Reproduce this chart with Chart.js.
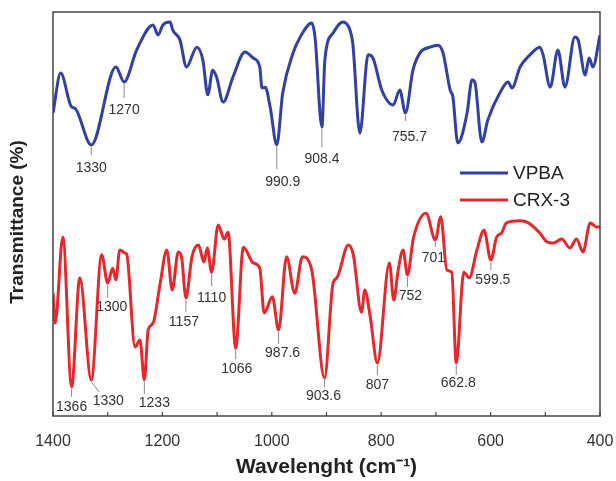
<!DOCTYPE html>
<html lang="en">
<head>
    <meta charset="UTF-8">
    <title>FTIR spectra VPBA / CRX-3</title>
    <script src="https://cdn.jsdelivr.net/npm/chart.js"></script>
    <style>
        html, body { margin: 0; padding: 0; background: #fff; }
        #wrap { width: 616px; height: 481px; }
    </style>
</head>
<body>
    <div id="wrap"><canvas id="ftirChart" width="616" height="481"></canvas></div>
    <script>
        // VPBA spectrum (wavenumber, transmittance a.u.)
        const vpbaWave = [1400, 1386, 1366, 1360, 1330, 1285, 1270, 1247, 1217, 1208, 1199, 1186, 1181, 1168, 1156, 1137, 1126, 1117, 1108, 1101,
            1089, 1071, 1049, 1034, 1022, 1018, 1012, 1003, 990.9, 980, 961, 948, 927, 921, 908.4, 903, 888, 870, 857, 852,
            839, 824, 815, 799, 778, 766, 755.7, 742, 729, 711, 696, 687, 674, 669, 660, 643, 634, 629, 616, 605,
            583, 568, 561, 546, 528, 510, 504, 491, 477, 464, 446, 440, 427, 420, 413, 400];
        const vpbaT = [75.0, 84.9, 76.5, 76.2, 67.1, 86.4, 82.7, 90.6, 96.8, 94.3, 96.8, 97.5, 95.5, 93.1, 86.4, 91.3, 88.1, 79.5, 85.6, 83.9,
            77.7, 83.9, 90.1, 88.6, 86.4, 81.2, 81.4, 76.5, 67.1, 80.0, 89.9, 93.8, 97.3, 93.8, 71.5, 88.1, 94.8, 97.5, 95.5, 92.3,
            70.0, 89.4, 88.6, 80.7, 77.0, 80.7, 75.0, 85.6, 89.9, 91.3, 91.8, 89.9, 80.7, 79.0, 67.6, 75.0, 83.2, 82.7, 67.8, 73.3,
            80.0, 82.7, 81.2, 86.4, 89.4, 91.3, 89.4, 81.4, 90.6, 81.4, 93.8, 93.1, 84.4, 88.6, 86.4, 94.3];

        // CRX-3 spectrum
        const crxWave = [1400, 1396, 1382, 1366, 1351, 1330, 1311, 1300, 1291, 1285, 1278, 1268, 1265, 1250, 1241, 1233, 1226, 1217, 1204, 1192,
            1182, 1171, 1165, 1157, 1146, 1134, 1124, 1118, 1110, 1098, 1087, 1080, 1066, 1052, 1034, 1022, 1014, 999, 987.6, 973,
            958, 944, 927, 903.6, 888, 881, 860, 851, 836, 830, 820, 807, 785, 777, 769, 760, 752, 741, 718, 701,
            691, 680, 671, 662.8, 649, 639, 625, 612, 599.5, 589, 580, 571, 546, 531, 510, 497, 485, 470, 455, 443,
            431, 418, 406, 400];
        const crxT = [30.4, 23.0, 44.3, 7.2, 34.2, 8.9, 39.9, 32.9, 36.6, 33.7, 41.1, 40.3, 39.9, 17.1, 18.8, 8.9, 21.3, 23.0, 32.9, 41.1,
            31.2, 40.6, 39.4, 29.2, 39.4, 42.3, 38.1, 41.6, 35.6, 47.3, 43.8, 45.5, 16.8, 41.8, 37.9, 36.6, 25.5, 29.5, 21.3, 39.4,
            30.4, 39.4, 36.1, 9.4, 32.9, 34.2, 42.3, 39.9, 25.7, 31.2, 24.5, 13.1, 37.9, 28.7, 36.1, 41.1, 34.9, 44.1, 50.2, 43.6,
            49.3, 36.1, 35.6, 13.1, 35.6, 34.2, 41.1, 46.0, 38.6, 44.3, 45.3, 47.8, 48.3, 47.8, 45.3, 43.1, 42.8, 43.8, 41.6, 43.8,
            40.6, 47.8, 46.8, 46.8];

        // peak labels
        const vpbaPeaks = ['1330', '1270', '990.9', '908.4', '755.7'];
        const crxPeaks = ['1366', '1330', '1300', '1233', '1157', '1110', '1066', '987.6', '903.6', '807', '752', '701', '662.8', '599.5'];

        const xTicks = [1400, 1200, 1000, 800, 600, 400];

        // label offsets in px: [line dx, line dy, text dx, text dy]
        const vpbaOffsets = [[0, 8, 0, 21], [0, 14, 0, 26], [0, 22, 6, 35], [0, 18, 0, 30], [0, 6, 4, 22]];
        const crxOffsets = [[0, 8, 0, 18], [8, 10, 17, 19], [0, 13, 4, 22], [0, 12, 10, 21], [0, 12, -2, 22], [0, 12, 0, 24],
            [0, 9, 1, 19], [0, 12, 4, 21], [0, 7, -1, 16], [0, 10, 0, 20], [0, 10, 3, 19], [0, 5, -2, 16], [0, 10, 2, 18], [0, 8, 2, 18]];

        function toPoints(xs, ys) {
            return xs.map((x, i) => ({ x: x, y: ys[i] }));
        }

        const FONT = "'Liberation Sans', Arial, sans-serif";

        const framePlugin = {
            id: 'frame',
            afterDraw(chart) {
                const { ctx, chartArea: a, scales } = chart;
                ctx.save();
                ctx.strokeStyle = '#444';
                ctx.lineWidth = 1.5;
                ctx.strokeRect(a.left, a.top, a.right - a.left, a.bottom - a.top);
                // inside ticks every 100
                ctx.lineWidth = 1.2;
                for (let v = 400; v <= 1400; v += 100) {
                    const px = scales.x.getPixelForValue(v);
                    ctx.beginPath();
                    ctx.moveTo(px, a.bottom);
                    ctx.lineTo(px, a.bottom - 4);
                    ctx.stroke();
                }
                // y title, a bit below centre like the original
                ctx.translate(18, (a.top + a.bottom) / 2 + 8);
                ctx.rotate(-Math.PI / 2);
                ctx.font = 'bold 19px ' + FONT;
                ctx.fillStyle = '#222';
                ctx.textAlign = 'center';
                ctx.textBaseline = 'middle';
                ctx.fillText('Transmittance (%)', 0, 0);
                ctx.restore();
            }
        };

        const peakPlugin = {
            id: 'peaks',
            afterDatasetsDraw(chart) {
                const { ctx, scales } = chart;
                const sets = [[0, vpbaPeaks, vpbaOffsets], [1, crxPeaks, crxOffsets]];
                ctx.save();
                ctx.font = '14px ' + FONT;
                ctx.textAlign = 'center';
                ctx.textBaseline = 'middle';
                sets.forEach(([di, peaks, offs]) => {
                    const data = chart.data.datasets[di].data;
                    peaks.forEach((lab, i) => {
                        const v = parseFloat(lab);
                        const pt = data.find(p => p.x === v);
                        if (!pt) return;
                        const px = scales.x.getPixelForValue(pt.x);
                        const py = scales.y.getPixelForValue(pt.y) + 2;
                        const o = offs[i];
                        ctx.strokeStyle = '#888';
                        ctx.lineWidth = 1;
                        ctx.beginPath();
                        ctx.moveTo(px, py);
                        ctx.lineTo(px + o[0], py + o[1]);
                        ctx.stroke();
                        ctx.fillStyle = '#333';
                        ctx.fillText(lab, px + o[2], py + o[3]);
                    });
                });
                ctx.restore();
            }
        };

        const legendPlugin = {
            id: 'innerLegend',
            afterDraw(chart) {
                const { ctx } = chart;
                ctx.save();
                ctx.font = '19px ' + FONT;
                ctx.textBaseline = 'middle';
                chart.data.datasets.forEach((ds, i) => {
                    const y = 173 + i * 27;
                    ctx.strokeStyle = ds.borderColor;
                    ctx.lineWidth = 3;
                    ctx.beginPath();
                    ctx.moveTo(460, y);
                    ctx.lineTo(508, y);
                    ctx.stroke();
                    ctx.fillStyle = '#222';
                    ctx.fillText(ds.label, 513, y + 1);
                });
                ctx.restore();
            }
        };

        new Chart(document.getElementById('ftirChart'), {
            type: 'line',
            data: {
                datasets: [
                    {
                        label: 'VPBA',
                        data: toPoints(vpbaWave, vpbaT),
                        borderColor: '#3140a3',
                        borderWidth: 3,
                        pointRadius: 0,
                        cubicInterpolationMode: 'monotone'
                    },
                    {
                        label: 'CRX-3',
                        data: toPoints(crxWave, crxT),
                        borderColor: '#e4282b',
                        borderWidth: 3,
                        pointRadius: 0,
                        cubicInterpolationMode: 'monotone'
                    }
                ]
            },
            options: {
                responsive: false,
                animation: false,
                layout: { padding: { top: 12, right: 16, left: 0, bottom: 0 } },
                plugins: { legend: { display: false }, tooltip: { enabled: false } },
                scales: {
                    x: {
                        type: 'linear',
                        reverse: true,
                        min: 400,
                        max: 1400,
                        grid: { display: false },
                        border: { display: false },
                        afterBuildTicks: (s) => { s.ticks = xTicks.map(v => ({ value: v })); },
                        ticks: {
                            color: '#333',
                            font: { family: FONT, size: 16 },
                            padding: 8,
                            maxRotation: 0,
                            callback: (v) => String(v)
                        },
                        title: {
                            display: true,
                            text: 'Wavelenght (cm\u207B\u00B9)',
                            color: '#222',
                            font: { family: FONT, size: 21, weight: 'bold' },
                            padding: { top: 0, bottom: 1 }
                        },
                        afterFit: (s) => { s.height = 65; s.paddingLeft = 0; s.paddingRight = 0; }
                    },
                    y: {
                        min: 0,
                        max: 100,
                        grid: { display: false },
                        border: { display: false },
                        ticks: { display: false },
                        title: { display: false },
                        afterFit: (s) => { s.width = 53; }
                    }
                }
            },
            plugins: [framePlugin, peakPlugin, legendPlugin]
        });
    </script>
</body>
</html>
